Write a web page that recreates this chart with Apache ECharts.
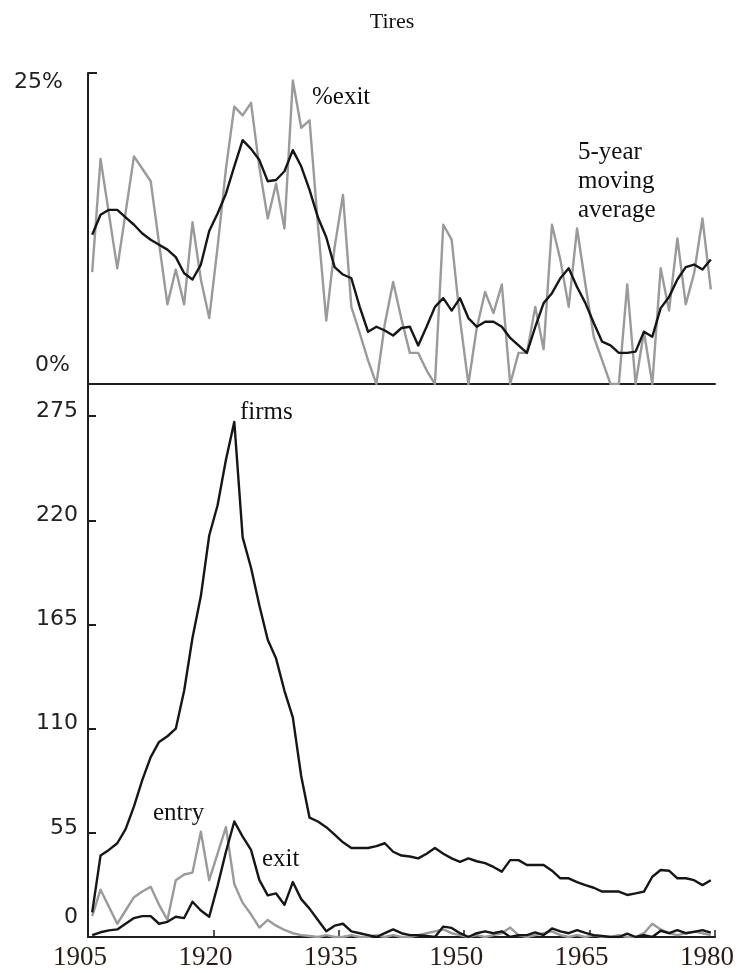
<!DOCTYPE html>
<html>
<head>
<meta charset="utf-8">
<title>Tires</title>
<script src="https://cdn.jsdelivr.net/npm/echarts@6/dist/echarts.min.js"></script>
<style>
  html, body { margin: 0; padding: 0; background: #ffffff; }
  #chart { width: 745px; height: 973px; }
</style>
</head>
<body>
<div id="chart"></div>
<script>
// Annual observations, 1905-1979 (each value is plotted at mid-year)
const years = [
  1905, 1906, 1907, 1908, 1909, 1910, 1911, 1912, 1913, 1914,
  1915, 1916, 1917, 1918, 1919, 1920, 1921, 1922, 1923, 1924,
  1925, 1926, 1927, 1928, 1929, 1930, 1931, 1932, 1933, 1934,
  1935, 1936, 1937, 1938, 1939, 1940, 1941, 1942, 1943, 1944,
  1945, 1946, 1947, 1948, 1949, 1950, 1951, 1952, 1953, 1954,
  1955, 1956, 1957, 1958, 1959, 1960, 1961, 1962, 1963, 1964,
  1965, 1966, 1967, 1968, 1969, 1970, 1971, 1972, 1973, 1974,
  1975, 1976, 1977, 1978, 1979
];

// Share of firms exiting each year (%)
const pctExit = [
  9.0, 18.1, 13.7, 9.3, 13.8, 18.3, 17.3, 16.3, 11.3, 6.4,
  9.2, 6.4, 13.0, 8.4, 5.3, 11.0, 17.3, 22.3, 21.6, 22.6,
  17.4, 13.3, 16.1, 12.5, 24.4, 20.6, 21.2, 12.8, 5.1, 11.0,
  15.2, 6.2, 4.1, 1.9, 0, 4.8, 8.2, 5.2, 2.5, 2.5,
  1.1, 0, 12.8, 11.6, 5.2, 0, 4.5, 7.4, 5.7, 8.0,
  0, 2.5, 2.5, 6.2, 2.8, 12.8, 10.0, 6.2, 12.5, 8.0,
  3.8, 1.9, 0, 0, 8.0, 0, 4.2, 0, 9.3, 5.9,
  11.7, 6.4, 8.9, 13.3, 7.6
];

// 5-year moving average of the exit share (%)
const pctExitMA = [
  12.0, 13.6, 14.0, 14.0, 13.4, 12.8, 12.1, 11.6, 11.2, 10.8,
  10.2, 8.9, 8.4, 9.6, 12.3, 13.7, 15.3, 17.5, 19.6, 18.9,
  18.0, 16.3, 16.4, 17.1, 18.8, 17.5, 15.6, 13.4, 11.8, 9.4,
  8.8, 8.5, 6.2, 4.2, 4.6, 4.3, 3.9, 4.5, 4.6, 3.1,
  4.6, 6.2, 6.9, 5.9, 6.9, 5.3, 4.6, 5.0, 5.0, 4.6,
  3.7, 3.1, 2.5, 4.6, 6.5, 7.3, 8.5, 9.3, 7.8, 6.5,
  4.9, 3.4, 3.1, 2.5, 2.5, 2.6, 4.2, 3.8, 6.1, 7.0,
  8.4, 9.4, 9.6, 9.2, 10.0
];

// Number of firms in the industry
const firms = [
  13, 43, 46, 49.5, 57, 69, 83, 95, 103, 106,
  110, 130, 158, 180, 212, 228, 252, 272, 211, 195,
  175, 157, 147, 130, 116, 85, 63, 61, 58, 54,
  50, 47, 47, 47, 48, 49.5, 45, 43, 42.5, 41.5,
  44, 47, 44, 41.5, 39.7, 41.5, 40, 39, 37, 34.5,
  40.6, 40.6, 38, 38, 38, 35, 31, 31, 29, 27.4,
  26, 24, 24, 24, 22.2, 23, 24, 31.8, 35.4, 35,
  31, 31, 30, 27.4, 30
];

// Number of entrants
const entry = [
  11, 25, 16, 7, 14, 21, 24, 26.5, 17, 9,
  30, 33, 34, 55.6, 30, 44, 58, 28, 18, 12,
  5, 9, 6, 3.7, 2, 1, 0.5, 0, 1, 0,
  0, 1, 0, 0, 1, 0, 1, 0, 0, 1,
  2, 3, 4, 2, 1, 0, 1, 0, 1, 2,
  5, 1, 0, 1, 2, 3, 1, 0, 1, 0,
  1, 0, 0, 1, 0, 0, 2, 7, 4, 2,
  1, 2, 3, 2, 1
];

// Number of exits
const exits = [
  1, 2.5, 3.5, 4, 7, 10, 11, 11, 7, 8,
  10.7, 10, 18.6, 14, 10.7, 27, 45, 61, 53, 46,
  30, 22, 23, 17, 29, 20, 15, 9, 3, 6,
  7, 3, 2, 1, 0, 2, 4, 2, 1, 1,
  0.5, 0, 5.5, 4.8, 2, 0, 2, 3, 2, 3,
  0, 1, 1, 2.4, 1, 4.5, 3, 2, 3.6, 2.2,
  1, 0.5, 0, 0, 1.8, 0, 1, 0, 3.3, 2,
  3.6, 2, 2.7, 3.6, 2.3
];

// Axis tick labels
const yearTicks = [1905, 1920, 1935, 1950, 1965, 1980];
const countTicks = [0, 55, 110, 165, 220, 275];
const pctTicks = [0, 25];

const GRAY = '#9a9a9a';
const BLACK = '#161616';
const AXIS = '#1e1e1e';
const SERIF = '"Liberation Serif", "Times New Roman", serif';
const SANS = '"DejaVu Sans", Verdana, sans-serif';

const pairs = (vals) => years.map((y, i) => [y + 0.5, vals[i]]);

const chart = echarts.init(document.getElementById('chart'), null, { renderer: 'canvas' });

const lineSeries = (name, vals, color, axisIdx, z) => ({
  name: name,
  type: 'line',
  xAxisIndex: axisIdx,
  yAxisIndex: axisIdx,
  data: pairs(vals),
  showSymbol: false,
  symbol: 'none',
  smooth: false,
  z: z,
  lineStyle: { color: color, width: 2.4, join: 'round' },
  animation: false
});

const option = {
  backgroundColor: '#ffffff',
  animation: false,
  grid: [
    { left: 88, right: 30, top: 73, height: 311, containLabel: false, outerBoundsMode: 'none' },
    { left: 88, right: 30, top: 384, height: 553, containLabel: false, outerBoundsMode: 'none' }
  ],
  xAxis: [
    {
      gridIndex: 0, type: 'value', min: yearTicks[0], max: yearTicks[yearTicks.length - 1], interval: 15,
      axisLine: { show: true, onZero: false, lineStyle: { color: AXIS, width: 2 } },
      axisTick: { show: false },
      axisLabel: { show: false },
      splitLine: { show: false }
    },
    {
      gridIndex: 1, type: 'value', min: yearTicks[0], max: yearTicks[yearTicks.length - 1], interval: 15,
      axisLine: { show: true, onZero: false, lineStyle: { color: AXIS, width: 2 } },
      axisTick: { show: true, inside: true, length: 7, lineStyle: { color: AXIS, width: 1.5 } },
      axisLabel: {
        show: true, margin: 7, color: '#2a1c14',
        fontFamily: SERIF, fontSize: 27,
        padding: [0, 16, 0, 0],
        customValues: yearTicks,
        formatter: (v) => String(v)
      },
      splitLine: { show: false }
    }
  ],
  yAxis: [
    {
      gridIndex: 0, type: 'value', min: pctTicks[0], max: pctTicks[1], interval: 25,
      axisLine: { show: true, lineStyle: { color: AXIS, width: 2 } },
      axisTick: { show: true, inside: true, length: 9, lineStyle: { color: AXIS, width: 2 } },
      axisLabel: {
        show: true, margin: 18, color: '#222',
        fontFamily: SANS, fontSize: 22,
        formatter: (v) => (v === 0 ? '{lo|0%}' : '{hi|' + v + '%}'),
        rich: {
          lo: { fontFamily: SANS, fontSize: 22, color: '#222', padding: [0, 0, 38, 0] },
          hi: { fontFamily: SANS, fontSize: 22, color: '#222', padding: [18, 7, 0, 0] }
        }
      },
      splitLine: { show: false }
    },
    {
      gridIndex: 1, type: 'value', min: 0, max: 292, interval: 55,
      axisLine: { show: true, lineStyle: { color: AXIS, width: 2 } },
      axisTick: { show: true, inside: true, length: 8, lineStyle: { color: AXIS, width: 2 },
                  customValues: countTicks.slice(1) },
      axisLabel: {
        show: true, margin: 10, color: '#222',
        fontFamily: SANS, fontSize: 22,
        customValues: countTicks,
        formatter: (v) => (v === 0 ? '{z|0}' : '{n|' + v + '}'),
        rich: {
          z: { fontFamily: SANS, fontSize: 22, color: '#222', padding: [0, 0, 40, 0] },
          n: { fontFamily: SANS, fontSize: 22, color: '#222', padding: [0, 0, 10, 0] }
        }
      },
      splitLine: { show: false }
    }
  ],
  series: [
    lineSeries('%exit', pctExit, GRAY, 0, 2),
    lineSeries('5-year moving average', pctExitMA, BLACK, 0, 3),
    lineSeries('entry', entry, GRAY, 1, 2),
    lineSeries('exit', exits, BLACK, 1, 3),
    lineSeries('firms', firms, BLACK, 1, 4)
  ],
  graphic: [
    { type: 'text', x: 392, y: 22, style: { text: 'Tires', font: '22px ' + SERIF, fill: '#111', textAlign: 'center', textVerticalAlign: 'middle' } },
    { type: 'text', x: 312, y: 97, style: { text: '%exit', font: '25px ' + SERIF, fill: '#111', textAlign: 'left', textVerticalAlign: 'middle' } },
    { type: 'text', x: 578, y: 138, style: { text: '5-year\nmoving\naverage', font: '25px ' + SERIF, lineHeight: 29, fill: '#111', textAlign: 'left', textVerticalAlign: 'top' } },
    { type: 'text', x: 240, y: 412, style: { text: 'firms', font: '25px ' + SERIF, fill: '#111', textAlign: 'left', textVerticalAlign: 'middle' } },
    { type: 'text', x: 153, y: 813, style: { text: 'entry', font: '25px ' + SERIF, fill: '#111', textAlign: 'left', textVerticalAlign: 'middle' } },
    { type: 'text', x: 262, y: 859, style: { text: 'exit', font: '25px ' + SERIF, fill: '#111', textAlign: 'left', textVerticalAlign: 'middle' } }
  ]
};

chart.setOption(option);
</script>
</body>
</html>
